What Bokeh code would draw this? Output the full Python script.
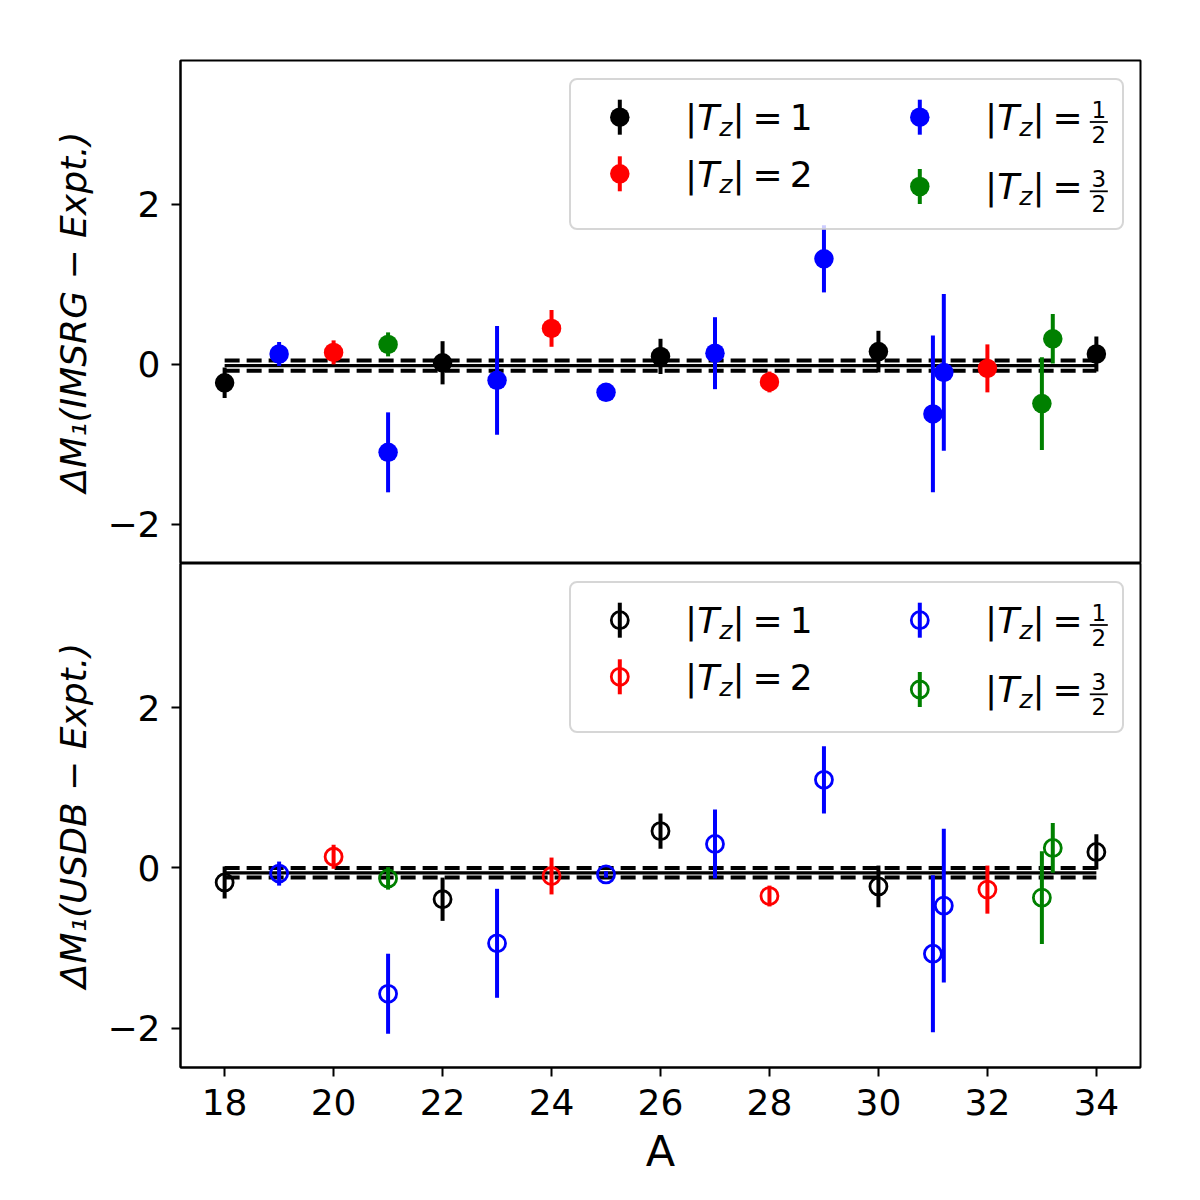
from bokeh.plotting import figure
from bokeh.layouts import column
from bokeh.models import ColumnDataSource, FixedTicker, Label, BoxAnnotation
from bokeh.embed import file_html
from bokeh.resources import INLINE

# ---------------- data ----------------
A_T1 = [18, 22, 26, 30, 34]
A_T2 = [20, 24, 28, 32]
A_THALF = [19, 21, 23, 25, 27, 29, 31, 31.2]
A_T3HALF = [21, 33, 33.2]

IMSRG_T1 = [-0.23, 0.02, 0.10, 0.16, 0.13]
IMSRG_T1_ERR = [0.19, 0.27, 0.22, 0.26, 0.22]
IMSRG_T2 = [0.15, 0.45, -0.22, -0.05]
IMSRG_T2_ERR = [0.15, 0.23, 0.13, 0.30]
IMSRG_THALF = [0.13, -1.10, -0.20, -0.35, 0.14, 1.32, -0.62, -0.10]
IMSRG_THALF_ERR = [0.15, 0.50, 0.68, 0.04, 0.45, 0.42, 0.98, 0.98]
IMSRG_T3HALF = [0.25, -0.49, 0.32]
IMSRG_T3HALF_ERR = [0.15, 0.58, 0.31]

USDB_T1 = [-0.18, -0.39, 0.46, -0.23, 0.20]
USDB_T1_ERR = [0.20, 0.27, 0.22, 0.26, 0.22]
USDB_T2 = [0.14, -0.10, -0.35, -0.27]
USDB_T2_ERR = [0.15, 0.23, 0.13, 0.30]
USDB_THALF = [-0.07, -1.57, -0.94, -0.08, 0.30, 1.10, -1.07, -0.47]
USDB_THALF_ERR = [0.15, 0.50, 0.68, 0.04, 0.43, 0.42, 0.98, 0.96]
USDB_T3HALF = [-0.13, -0.37, 0.25]
USDB_T3HALF_ERR = [0.14, 0.58, 0.31]

IMSRG_MEAN = -0.015
IMSRG_BAND = 0.065
USDB_MEAN = -0.06
USDB_BAND = 0.06

X_TICKS = [18, 20, 22, 24, 26, 28, 30, 32, 34]
Y_TICKS = [-2, 0, 2]
Y_TICK_LABELS = ["\u22122", "0", "2"]
SERIES_NAMES = ["1", "2", "1/2", "3/2"]
SERIES_COLORS = ["black", "red", "blue", "green"]

# ---------------- layout ----------------
X_RANGE = (17.19, 34.81)
Y_RANGE = (-2.49, 3.80)
FRAME_W = 960
TOP_FH = 503
BOT_FH = 504
FONT = "DejaVu Sans"


def fx(px):
    return X_RANGE[0] + px / FRAME_W * (X_RANGE[1] - X_RANGE[0])


def fy(py, fh):
    return Y_RANGE[1] - py / fh * (Y_RANGE[1] - Y_RANGE[0])


def add_text(p, fh, px, py, text, size=36, italic=False, align="left"):
    # py is the desired alphabetic baseline; place by the middle of the text box
    mid = py - 0.346 * size
    p.add_layout(Label(x=fx(px), y=fy(mid, fh), text=text, text_font=FONT,
                       text_font_size=f"{size}px",
                       text_font_style="italic" if italic else "normal",
                       text_align=align, text_baseline="middle",
                       text_color="black"))


def make_panel(ylabel, groups, mean, band, fh, hollow, bottom):
    p = figure(frame_width=FRAME_W, frame_height=fh,
               x_range=X_RANGE, y_range=Y_RANGE,
               output_backend="svg", toolbar_location=None,
               x_axis_location="below" if bottom else None,
               min_border_left=180, min_border_right=52,
               min_border_top=0 if bottom else 60,
               min_border_bottom=132 if bottom else 0,
               background_fill_color="white", border_fill_color="white")
    p.grid.visible = False
    p.outline_line_color = "black"
    p.outline_line_width = 2

    yax = p.yaxis[0]
    yax.ticker = FixedTicker(ticks=Y_TICKS)
    yax.major_label_overrides = {t: l for t, l in zip(Y_TICKS, Y_TICK_LABELS)}
    yax.major_label_text_font = FONT
    yax.major_label_text_font_size = "36px"
    yax.major_label_text_color = "black"
    yax.major_label_standoff = 11
    yax.major_tick_out = 9
    yax.major_tick_in = 0
    yax.major_tick_line_width = 2
    yax.major_tick_line_color = "black"
    yax.minor_tick_line_color = None
    yax.axis_line_width = 2
    yax.axis_line_color = "black"
    yax.axis_label = ylabel
    yax.axis_label_text_font = FONT
    yax.axis_label_text_font_size = "36px"
    yax.axis_label_text_font_style = "italic"
    yax.axis_label_text_color = "black"
    yax.axis_label_standoff = 10

    if bottom:
        xax = p.xaxis[0]
        xax.ticker = FixedTicker(ticks=X_TICKS)
        xax.major_label_text_font = FONT
        xax.major_label_text_font_size = "36px"
        xax.major_label_text_color = "black"
        xax.major_label_standoff = 12
        xax.major_tick_out = 9
        xax.major_tick_in = 0
        xax.major_tick_line_width = 2
        xax.major_tick_line_color = "black"
        xax.minor_tick_line_color = None
        xax.axis_line_width = 2
        xax.axis_line_color = "black"
        xax.axis_label = "A"
        xax.axis_label_text_font = FONT
        xax.axis_label_text_font_size = "43px"
        xax.axis_label_text_font_style = "normal"
        xax.axis_label_text_color = "black"
        xax.axis_label_standoff = 8

    # reference lines
    all_a = [a for g in groups for a in g[2]]
    xl = [min(all_a), max(all_a)]
    p.line(xl, [mean, mean], line_color="black", line_width=3.3)
    p.line(xl, [mean + band] * 2, line_color="black", line_width=4, line_dash="15 7")
    p.line(xl, [mean - band] * 2, line_color="black", line_width=4, line_dash="15 7")

    # error bars then markers
    for name, color, a, v, e in groups:
        src = ColumnDataSource(dict(x=a, y=v,
                                    lo=[vi - ei for vi, ei in zip(v, e)],
                                    hi=[vi + ei for vi, ei in zip(v, e)]))
        p.segment(x0="x", y0="lo", x1="x", y1="hi", source=src,
                  line_color=color, line_width=4)
    for name, color, a, v, e in groups:
        src = ColumnDataSource(dict(x=a, y=v))
        if hollow:
            p.scatter("x", "y", source=src, marker="circle", size=17,
                      fill_color=None, line_color=color, line_width=2.8)
        else:
            p.scatter("x", "y", source=src, marker="circle", size=19.5,
                      fill_color=color, line_color=None)

    # legend box
    p.add_layout(BoxAnnotation(left=fx(389.5), right=fx(942.5),
                               top=fy(18.5, fh), bottom=fy(168.5, fh),
                               fill_color="white", fill_alpha=0.8,
                               line_color="#cccccc", line_alpha=0.8, line_width=2,
                               border_radius=7))
    # legend entries: (marker x, marker y, baseline y) in px from frame top-left
    slots = [(439.3, 56.7, 69.0), (439.3, 113.3, 126.0),
             (739.3, 56.7, 69.0), (739.3, 126.0, 138.3)]
    for (name, color, a, v, e), (mx, my, by) in zip(groups, slots):
        seg = p.segment(x0=[fx(mx)], y0=[fy(my - 17.5, fh)], x1=[fx(mx)],
                        y1=[fy(my + 17.5, fh)], line_color=color, line_width=4)
        seg.level = "overlay"
        if hollow:
            sc = p.scatter([fx(mx)], [fy(my, fh)], marker="circle", size=17,
                           fill_color=None, line_color=color, line_width=2.8)
        else:
            sc = p.scatter([fx(mx)], [fy(my, fh)], marker="circle", size=19.5,
                           fill_color=color, line_color=None)
        sc.level = "overlay"
        add_text(p, fh, mx + 65.3, by, "|")
        add_text(p, fh, mx + 77.4, by, "T", italic=True)
        add_text(p, fh, mx + 99.4, by + 6.5, "z", size=25, italic=True)
        add_text(p, fh, mx + 112.7, by, "|")
        add_text(p, fh, mx + 132.7, by, "=")
        if "/" in name:
            num, den = name.split("/")
            add_text(p, fh, mx + 179, by - 12, num, size=23, align="center")
            add_text(p, fh, mx + 179, by + 13, den, size=23, align="center")
            bar = p.segment(x0=[fx(mx + 170)], y0=[fy(by - 7.5, fh)],
                            x1=[fx(mx + 188)], y1=[fy(by - 7.5, fh)],
                            line_color="black", line_width=1.8)
            bar.level = "overlay"
        else:
            add_text(p, fh, mx + 170, by, name)
    return p


top_groups = [
    (SERIES_NAMES[0], SERIES_COLORS[0], A_T1, IMSRG_T1, IMSRG_T1_ERR),
    (SERIES_NAMES[1], SERIES_COLORS[1], A_T2, IMSRG_T2, IMSRG_T2_ERR),
    (SERIES_NAMES[2], SERIES_COLORS[2], A_THALF, IMSRG_THALF, IMSRG_THALF_ERR),
    (SERIES_NAMES[3], SERIES_COLORS[3], A_T3HALF, IMSRG_T3HALF, IMSRG_T3HALF_ERR),
]
bot_groups = [
    (SERIES_NAMES[0], SERIES_COLORS[0], A_T1, USDB_T1, USDB_T1_ERR),
    (SERIES_NAMES[1], SERIES_COLORS[1], A_T2, USDB_T2, USDB_T2_ERR),
    (SERIES_NAMES[2], SERIES_COLORS[2], A_THALF, USDB_THALF, USDB_THALF_ERR),
    (SERIES_NAMES[3], SERIES_COLORS[3], A_T3HALF, USDB_T3HALF, USDB_T3HALF_ERR),
]

top = make_panel("\u0394M\u2081(IMSRG \u2212 Expt.)", top_groups, IMSRG_MEAN, IMSRG_BAND,
                 TOP_FH, hollow=False, bottom=False)
bot = make_panel("\u0394M\u2081(USDB \u2212 Expt.)", bot_groups, USDB_MEAN, USDB_BAND,
                 BOT_FH, hollow=True, bottom=True)

layout = column(top, bot, spacing=0)
open("out.html", "w").write(file_html(layout, INLINE, "plot"))
